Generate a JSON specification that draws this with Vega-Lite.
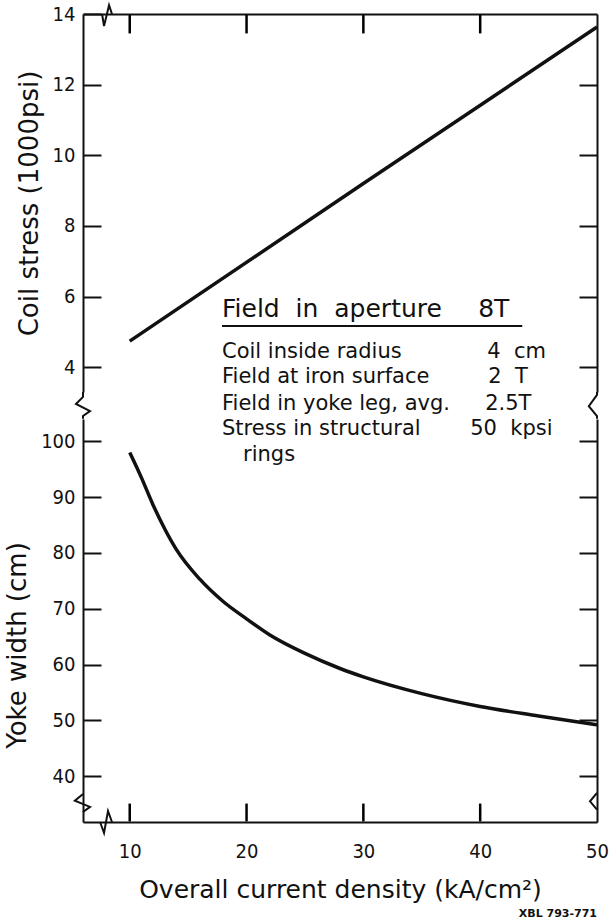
{
  "$schema": "https://vega.github.io/schema/vega-lite/v6.json",
  "background": "white",
  "padding": {"left": 4, "top": 1, "right": 10, "bottom": 3},
  "spacing": 27,
  "bounds": "flush",
  "resolve": {"scale": {"x": "independent"}, "axis": {"x": "independent"}},
  "datasets": {
    "stress": [
      {"J": 10, "S": 4.74},
      {"J": 30, "S": 9.2},
      {"J": 50, "S": 13.63}
    ],
    "yoke": [
      {"J": 10, "W": 98.0},
      {"J": 11, "W": 93.5},
      {"J": 12, "W": 88.6},
      {"J": 13, "W": 84.3},
      {"J": 14, "W": 80.6},
      {"J": 16, "W": 75.3},
      {"J": 18, "W": 71.3},
      {"J": 20, "W": 68.2},
      {"J": 22, "W": 65.3},
      {"J": 25, "W": 62.0},
      {"J": 28, "W": 59.3},
      {"J": 30, "W": 57.8},
      {"J": 35, "W": 54.8},
      {"J": 40, "W": 52.5},
      {"J": 45, "W": 50.8},
      {"J": 50, "W": 49.2}
    ],
    "ticksTop": [
      {"x": 10, "y": 13.98, "y2": 13.45},
      {"x": 20, "y": 13.98, "y2": 13.45},
      {"x": 30, "y": 13.98, "y2": 13.45},
      {"x": 40, "y": 13.98, "y2": 13.45}
    ],
    "ticksBottom": [
      {"x": 10, "y": 31.9, "y2": 35.1},
      {"x": 20, "y": 31.9, "y2": 35.1},
      {"x": 30, "y": 31.9, "y2": 35.1},
      {"x": 40, "y": 31.9, "y2": 35.1}
    ],
    "sqTop": [
      {"g": "notch", "o": 1, "x": 7.63, "y": 14},
      {"g": "notch", "o": 2, "x": 7.8, "y": 13.66},
      {"g": "notch", "o": 3, "x": 8.23, "y": 14.25},
      {"g": "notch", "o": 4, "x": 8.48, "y": 14},
      {"g": "left", "o": 1, "x": 6, "y": 3.3},
      {"g": "left", "o": 2, "x": 6, "y": 3.16},
      {"g": "left", "o": 3, "x": 5.4, "y": 2.96},
      {"g": "left", "o": 4, "x": 6.6, "y": 2.76},
      {"g": "left", "o": 5, "x": 6, "y": 2.62},
      {"g": "left", "o": 6, "x": 6, "y": 2.54},
      {"g": "right", "o": 1, "x": 50, "y": 3.3},
      {"g": "right", "o": 2, "x": 50, "y": 3.22},
      {"g": "right", "o": 3, "x": 49.3, "y": 2.9},
      {"g": "right", "o": 4, "x": 50, "y": 2.62},
      {"g": "right", "o": 5, "x": 50, "y": 2.54}
    ],
    "sqBottom": [
      {"g": "notch", "o": 1, "x": 7.46, "y": 31.8},
      {"g": "notch", "o": 2, "x": 7.8, "y": 29.83},
      {"g": "notch", "o": 3, "x": 8.14, "y": 33.77},
      {"g": "notch", "o": 4, "x": 8.48, "y": 31.8},
      {"g": "left", "o": 1, "x": 6, "y": 36.82},
      {"g": "left", "o": 2, "x": 5.3, "y": 35.6},
      {"g": "left", "o": 3, "x": 6.6, "y": 34.5},
      {"g": "left", "o": 4, "x": 6, "y": 33.6},
      {"g": "right", "o": 1, "x": 50, "y": 37.0},
      {"g": "right", "o": 2, "x": 49.4, "y": 35.5},
      {"g": "right", "o": 3, "x": 50, "y": 34.0}
    ]
  },
  "config": {
    "view": {"stroke": null},
    "axis": {
      "grid": false,
      "domain": true,
      "domainColor": "#111",
      "domainWidth": 2,
      "ticks": true,
      "tickColor": "#111",
      "tickWidth": 2,
      "tickSize": -18,
      "labelPadding": 26,
      "labelFlush": false,
      "labelFont": "DejaVu Sans Condensed, Roboto, sans-serif",
      "labelFontSize": 20,
      "labelColor": "#111",
      "titleFont": "DejaVu Sans",
      "titleFontSize": 26,
      "titleFontWeight": "normal",
      "titleColor": "#111",
      "titlePadding": 10
    },
    "axisBottom": {"labelPadding": 19, "titleFontSize": 25, "titlePadding": 16},
    "text": {"font": "DejaVu Sans", "color": "#111"}
  },
  "vconcat": [
    {
      "width": 514,
      "height": 378,
      "resolve": {"axis": {"y": "independent", "x": "independent"}},
      "layer": [
        {
          "data": {"name": "stress"},
          "mark": {"type": "line", "color": "#111", "strokeWidth": 3.5},
          "encoding": {
            "x": {"field": "J", "type": "quantitative",
                  "scale": {"domain": [6, 50], "nice": false, "zero": false},
                  "axis": {"orient": "top", "values": [10, 20, 30, 40], "labels": false, "title": null, "ticks": false}},
            "y": {"field": "S", "type": "quantitative",
                  "scale": {"domain": [3.3, 14], "nice": false, "zero": false},
                  "axis": {"values": [4, 6, 8, 10, 12, 14], "title": "Coil stress (1000psi)"}}
          }
        },
        {
          "data": {"name": "ticksTop"},
          "mark": {"type": "rule", "color": "#000", "strokeWidth": 2.5},
          "encoding": {
            "x": {"field": "x", "type": "quantitative", "scale": {"domain": [6, 50], "nice": false, "zero": false}, "axis": null},
            "y": {"field": "y", "type": "quantitative", "scale": {"domain": [3.3, 14], "nice": false, "zero": false}, "axis": null},
            "y2": {"field": "y2"}
          }
        },
        {
          "data": {"name": "sqTop"},
          "mark": {"type": "line", "color": "#111", "strokeWidth": 2},
          "encoding": {
            "x": {"field": "x", "type": "quantitative", "scale": {"domain": [6, 50], "nice": false, "zero": false}, "axis": null},
            "y": {"field": "y", "type": "quantitative", "scale": {"domain": [3.3, 14], "nice": false, "zero": false},
                  "axis": {"orient": "right", "values": [4, 6, 8, 10, 12], "labels": false, "title": null}},
            "detail": {"field": "g"},
            "order": {"field": "o"}
          }
        },
        {
          "data": {"values": [
            {"t": "Field\u00a0\u00a0in\u00a0\u00a0aperture", "x": 17.9, "y": 5.65},
            {"t": "8T", "x": 39.83, "y": 5.65}
          ]},
          "mark": {"type": "text", "align": "left", "baseline": "middle", "fontSize": 25},
          "encoding": {
            "x": {"field": "x", "type": "quantitative", "scale": {"domain": [6, 50], "nice": false, "zero": false}, "axis": null},
            "y": {"field": "y", "type": "quantitative", "scale": {"domain": [3.3, 14], "nice": false, "zero": false}, "axis": null},
            "text": {"field": "t"}
          }
        },
        {
          "data": {"values": [{"x": 17.9, "x2": 43.6, "y": 5.17}]},
          "mark": {"type": "rule", "color": "#111", "strokeWidth": 2},
          "encoding": {
            "x": {"field": "x", "type": "quantitative", "scale": {"domain": [6, 50], "nice": false, "zero": false}, "axis": null},
            "x2": {"field": "x2"},
            "y": {"field": "y", "type": "quantitative", "scale": {"domain": [3.3, 14], "nice": false, "zero": false}, "axis": null}
          }
        },
        {
          "data": {"values": [
            {"t": "Coil inside radius", "x": 17.9, "y": 4.43},
            {"t": "Field at iron surface", "x": 17.9, "y": 3.73},
            {"t": "Field in yoke leg, avg.", "x": 17.9, "y": 2.96},
            {"t": "Stress in structural", "x": 17.9, "y": 2.25},
            {"t": "rings", "x": 19.7, "y": 1.52},
            {"t": "4\u00a0\u00a0cm", "x": 40.6, "y": 4.43},
            {"t": "2\u00a0\u00a0T", "x": 40.69, "y": 3.73},
            {"t": "2.5T", "x": 40.43, "y": 2.96},
            {"t": "50\u00a0\u00a0kpsi", "x": 39.15, "y": 2.25}
          ]},
          "mark": {"type": "text", "align": "left", "baseline": "middle", "fontSize": 21},
          "encoding": {
            "x": {"field": "x", "type": "quantitative", "scale": {"domain": [6, 50], "nice": false, "zero": false}, "axis": null},
            "y": {"field": "y", "type": "quantitative", "scale": {"domain": [3.3, 14], "nice": false, "zero": false}, "axis": null},
            "text": {"field": "t"}
          }
        }
      ]
    },
    {
      "width": 514,
      "height": 403,
      "resolve": {"axis": {"y": "independent", "x": "independent"}},
      "layer": [
        {
          "data": {"name": "yoke"},
          "mark": {"type": "line", "color": "#111", "strokeWidth": 3.5, "interpolate": "monotone"},
          "encoding": {
            "x": {"field": "J", "type": "quantitative",
                  "scale": {"domain": [6, 50], "nice": false, "zero": false},
                  "axis": {"orient": "bottom", "values": [10, 20, 30, 40, 50], "ticks": false, "title": "Overall current density (kA/cm²)"}},
            "y": {"field": "W", "type": "quantitative",
                  "scale": {"domain": [31.8, 104], "nice": false, "zero": false},
                  "axis": {"values": [40, 50, 60, 70, 80, 90, 100], "title": "Yoke width (cm)", "titleY": 226}}
          }
        },
        {
          "data": {"name": "ticksBottom"},
          "mark": {"type": "rule", "color": "#000", "strokeWidth": 2.5},
          "encoding": {
            "x": {"field": "x", "type": "quantitative", "scale": {"domain": [6, 50], "nice": false, "zero": false}, "axis": null},
            "y": {"field": "y", "type": "quantitative", "scale": {"domain": [31.8, 104], "nice": false, "zero": false}, "axis": null},
            "y2": {"field": "y2"}
          }
        },
        {
          "data": {"name": "sqBottom"},
          "mark": {"type": "line", "color": "#111", "strokeWidth": 2},
          "encoding": {
            "x": {"field": "x", "type": "quantitative", "scale": {"domain": [6, 50], "nice": false, "zero": false}, "axis": null},
            "y": {"field": "y", "type": "quantitative", "scale": {"domain": [31.8, 104], "nice": false, "zero": false},
                  "axis": {"orient": "right", "values": [40, 50, 60, 70, 80, 90, 100], "labels": false, "title": null}},
            "detail": {"field": "g"},
            "order": {"field": "o"}
          }
        },
        {
          "data": {"values": [{"t": "XBL 793-771", "x": 50, "y": 15.3}]},
          "mark": {"type": "text", "align": "right", "baseline": "middle", "fontSize": 11, "fontWeight": "bold"},
          "encoding": {
            "x": {"field": "x", "type": "quantitative", "scale": {"domain": [6, 50], "nice": false, "zero": false}, "axis": null},
            "y": {"field": "y", "type": "quantitative", "scale": {"domain": [31.8, 104], "nice": false, "zero": false}, "axis": null},
            "text": {"field": "t"}
          }
        }
      ]
    }
  ]
}
